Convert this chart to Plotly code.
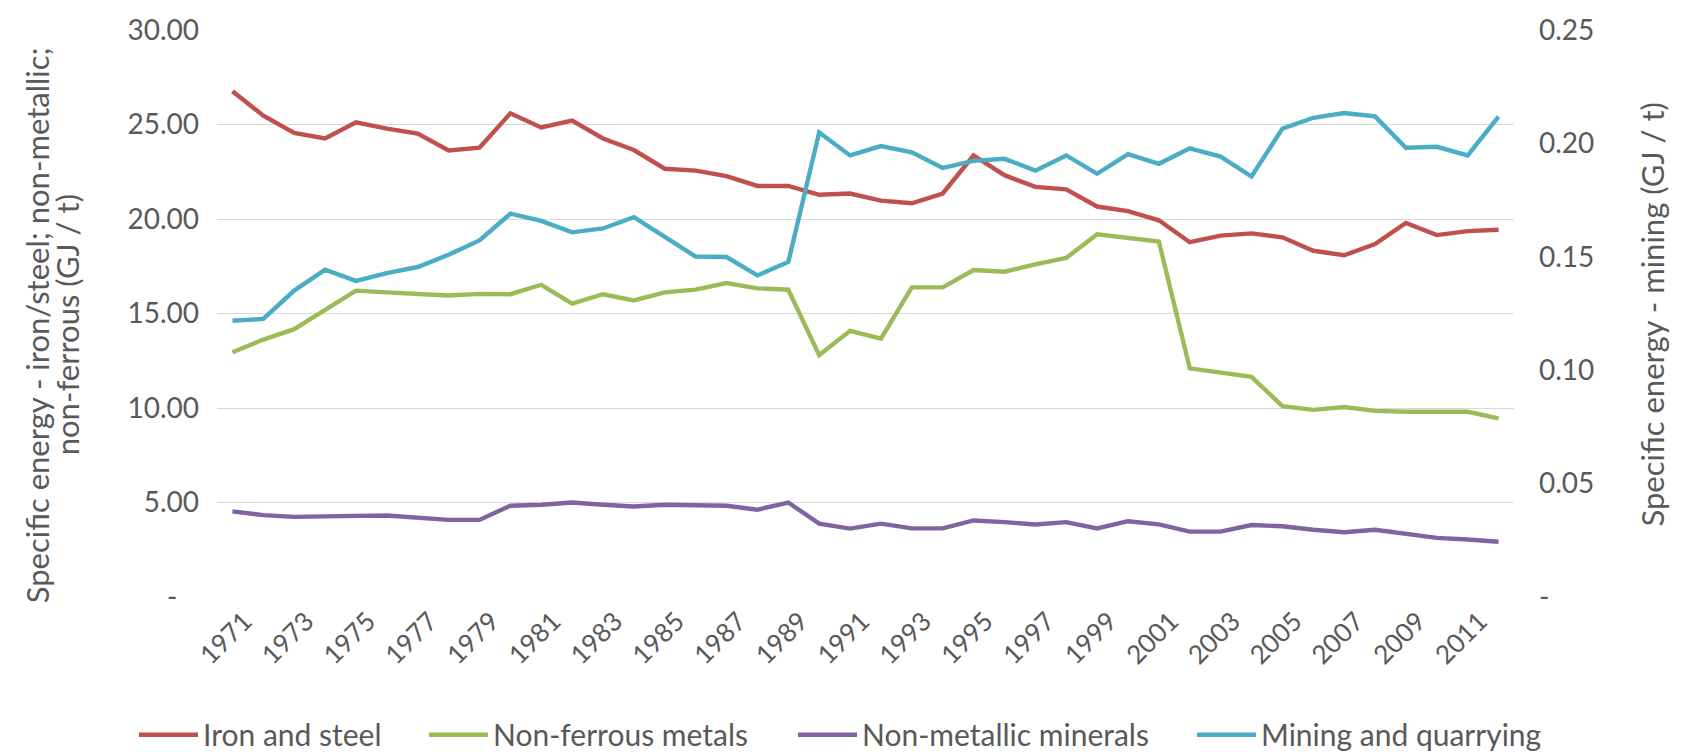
import plotly.graph_objects as go

years = [str(y) for y in range(1971, 2013)]
year_ticks = [str(y) for y in range(1971, 2013, 2)]

iron_steel = [26.76, 25.47, 24.55, 24.26, 25.12, 24.78, 24.52, 23.63, 23.77, 25.59,
              24.84, 25.21, 24.26, 23.65, 22.66, 22.56, 22.27, 21.75, 21.75, 21.28,
              21.35, 20.97, 20.83, 21.35, 23.36, 22.32, 21.70, 21.57, 20.66, 20.42,
              19.93, 18.77, 19.12, 19.24, 19.03, 18.32, 18.08, 18.67, 19.79, 19.15,
              19.36, 19.43]
non_ferrous = [12.95, 13.62, 14.17, 15.17, 16.21, 16.12, 16.06, 15.95, 16.04, 16.02,
               16.52, 15.52, 16.02, 15.69, 16.12, 16.26, 16.61, 16.33, 16.26, 12.80,
               14.08, 13.67, 16.38, 16.38, 17.30, 17.21, 17.60, 17.94, 19.19, 18.98,
               18.81, 12.10, 11.85, 11.65, 10.10, 9.90, 10.05, 9.85, 9.80, 9.78,
               9.80, 9.45]
non_metallic = [4.53, 4.33, 4.24, 4.24, 4.29, 4.31, 4.22, 4.08, 4.08, 4.83,
                4.88, 5.00, 4.88, 4.79, 4.88, 4.86, 4.83, 4.62, 5.00, 3.88,
                3.62, 3.88, 3.63, 3.63, 4.05, 3.96, 3.84, 3.96, 3.63, 4.01,
                3.84, 3.46, 3.46, 3.81, 3.74, 3.56, 3.43, 3.56, 3.32, 3.13,
                3.04, 2.92]
mining = [0.1218, 0.1226, 0.1351, 0.1443, 0.1394, 0.1428, 0.1455, 0.1509, 0.1572, 0.1690,
          0.1658, 0.1608, 0.1625, 0.1675, 0.1588, 0.1501, 0.1499, 0.1418, 0.1477, 0.2048,
          0.1947, 0.1988, 0.1961, 0.1892, 0.1923, 0.1932, 0.1880, 0.1947, 0.1866, 0.1953,
          0.1910, 0.1978, 0.1942, 0.1854, 0.2065, 0.2113, 0.2134, 0.2119, 0.1981, 0.1985,
          0.1947, 0.2118]

left_ticks = [0, 5, 10, 15, 20, 25, 30]
left_ticktext = ["-\u00a0\u00a0\u00a0", "5.00", "10.00", "15.00", "20.00", "25.00", "30.00"]
right_ticks = [0, 0.05, 0.10, 0.15, 0.20, 0.25]
right_ticktext = ["-", "0.05", "0.10", "0.15", "0.20", "0.25"]

FONT = "Lato"
TXT = "#595959"
GRID = "#D9D9D9"
FIG_W, FIG_H = 1681, 752

fig = go.Figure()
series = [
    ("Iron and steel", iron_steel, "#C0504D", "y", "legend", 134),
    ("Non-ferrous metals", non_ferrous, "#9BBB59", "y", "legend2", 424),
    ("Non-metallic minerals", non_metallic, "#8064A2", "y", "legend3", 793),
    ("Mining and quarrying", mining, "#4BACC6", "y2", "legend4", 1192),
]
legend_layouts = {}
for name, vals, color, ax, leg, lx in series:
    fig.add_trace(go.Scatter(x=years, y=vals, name=name, mode="lines", yaxis=ax,
                             legend=leg,
                             line=dict(color=color, width=4.4, shape="linear"),
                             hoverinfo="skip"))
    legend_layouts[leg] = dict(orientation="h", xref="container", yref="container",
                               x=lx / FIG_W, xanchor="left", y=0.023, yanchor="middle",
                               font=dict(family=FONT, size=30, color=TXT),
                               itemwidth=59, bgcolor="rgba(0,0,0,0)", borderwidth=0)

fig.update_layout(
    width=FIG_W, height=FIG_H,
    margin=dict(l=217, r=167, t=19, b=155),
    paper_bgcolor="white", plot_bgcolor="white",
    font=dict(family=FONT, color=TXT, size=28),
    showlegend=True,
    xaxis=dict(type="category", categoryorder="array", categoryarray=years,
               range=[-0.5, len(years) - 0.5],
               tickmode="array", tickvals=year_ticks, ticktext=year_ticks,
               tickangle=-45, showgrid=False, showline=False, zeroline=False,
               ticks="", ticklabelstandoff=3, ticklabelshift=12,
               tickfont=dict(family=FONT, size=26, color=TXT)),
    yaxis=dict(range=[0, 30], tickmode="array", tickvals=left_ticks, ticktext=left_ticktext,
               showgrid=True, gridcolor=GRID, gridwidth=1.3, zeroline=False,
               showline=False, ticks="", ticklabelstandoff=17,
               tickfont=dict(family=FONT, size=28, color=TXT)),
    yaxis2=dict(range=[0, 0.25], overlaying="y", side="right", tickmode="array",
                tickvals=right_ticks, ticktext=right_ticktext, showgrid=False,
                zeroline=False, showline=False, ticks="", ticklabelstandoff=24,
                tickfont=dict(family=FONT, size=28, color=TXT)),
    **legend_layouts,
)

W = 1297.0
H = 578.0
def px_x(px):
    return (px - 217) / W
def px_y(py):
    return 1 - (py - 19) / H

fig.add_annotation(text="Specific energy - iron/steel; non-metallic;", xref="paper", yref="paper",
                   x=px_x(37), y=px_y(320), xanchor="center", yanchor="middle",
                   textangle=-90, showarrow=False, font=dict(family=FONT, size=31, color=TXT))
fig.add_annotation(text="non-ferrous (GJ / t)", xref="paper", yref="paper",
                   x=px_x(67), y=px_y(320), xanchor="center", yanchor="middle",
                   textangle=-90, showarrow=False, font=dict(family=FONT, size=31, color=TXT))
fig.add_annotation(text="Specific energy - mining (GJ / t)", xref="paper", yref="paper",
                   x=px_x(1652), y=px_y(309), xanchor="center", yanchor="middle",
                   textangle=-90, showarrow=False, font=dict(family=FONT, size=31, color=TXT))

fig.write_html("out.html")
